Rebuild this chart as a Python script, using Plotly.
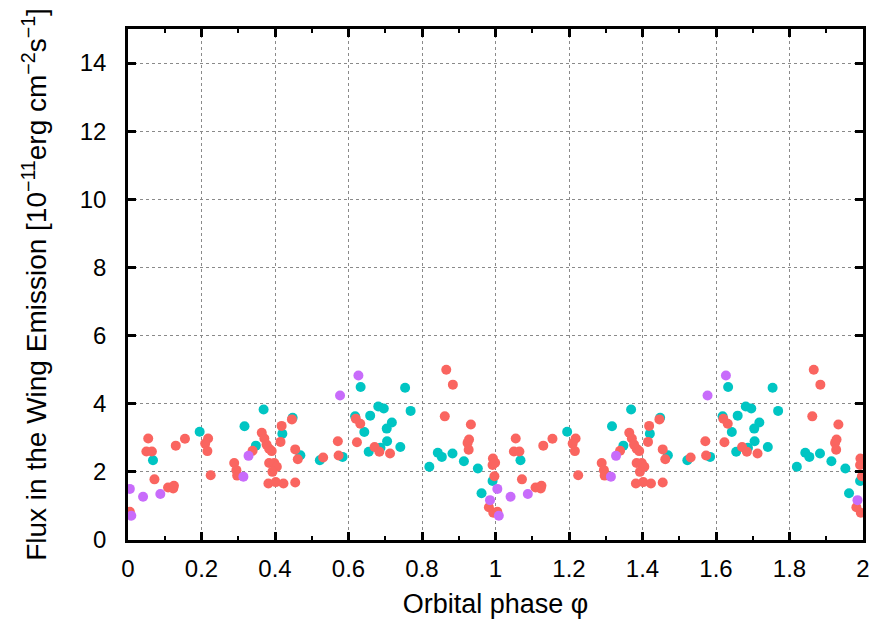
import plotly.graph_objects as go

# ---- data (orbital phase 0-1; plotted twice, phase and phase+1) ----
red_phase = [0.005, 0.994, 0.055, 0.050, 0.065, 0.072, 0.109, 0.123, 0.125, 0.130,
             0.155, 0.218, 0.210, 0.216, 0.225, 0.289, 0.295, 0.297, 0.339, 0.364,
             0.371, 0.377, 0.384, 0.391, 0.384, 0.398, 0.405, 0.393, 0.382, 0.402,
             0.423, 0.418, 0.415, 0.446, 0.455, 0.462, 0.455, 0.531, 0.571, 0.573,
             0.620, 0.632, 0.623, 0.671, 0.684, 0.713, 0.866, 0.884, 0.862, 0.933,
             0.928, 0.924, 0.927, 0.993, 0.992, 0.999, 0.997, 0.982]
red_flux = [0.83, 0.80, 2.98, 2.60, 2.60, 1.78, 1.54, 1.51, 1.59, 2.77,
            2.97, 2.98, 2.83, 2.61, 1.90, 2.26, 2.05, 1.89, 2.62, 3.15,
            2.98, 2.80, 2.68, 2.61, 2.26, 2.26, 2.15, 2.00, 1.66, 1.70,
            1.66, 3.35, 2.88, 3.54, 2.66, 2.37, 1.69, 2.42, 2.90, 2.48,
            3.56, 3.41, 2.87, 2.73, 2.59, 2.54, 5.00, 4.56, 3.63, 3.39,
            2.95, 2.85, 2.65, 2.39, 2.20, 2.27, 1.87, 0.96]

teal_phase = [0.068, 0.195, 0.317, 0.348, 0.369, 0.420, 0.448, 0.469, 0.522, 0.584,
              0.633, 0.618, 0.643, 0.659, 0.681, 0.696, 0.718, 0.704, 0.705, 0.687,
              0.655, 0.741, 0.754, 0.769, 0.820, 0.843, 0.854, 0.883, 0.914, 0.952,
              0.962, 0.992]
teal_flux = [2.34, 3.18, 3.34, 2.77, 3.83, 3.12, 3.59, 2.49, 2.34, 2.44,
             4.49, 3.63, 3.17, 3.65, 3.92, 3.86, 3.45, 3.27, 2.90, 2.71,
             2.59, 2.73, 4.47, 3.79, 2.15, 2.56, 2.44, 2.54, 2.31, 2.10,
             1.37, 1.73]

purple_phase = [0.005, 0.009, 0.041, 0.088, 0.314, 0.328, 0.577, 0.627, 0.985]
purple_flux = [1.50, 0.71, 1.27, 1.35, 1.86, 2.47, 4.24, 4.83, 1.17]

x_ticks = [0, 0.2, 0.4, 0.6, 0.8, 1, 1.2, 1.4, 1.6, 1.8, 2]
x_labels = ["0", "0.2", "0.4", "0.6", "0.8", "1", "1.2", "1.4", "1.6", "1.8", "2"]
y_ticks = [0, 2, 4, 6, 8, 10, 12, 14]
y_labels = ["0", "2", "4", "6", "8", "10", "12", "14"]

FONT = "Liberation Sans"

def two_cycles(ph, fl):
    return ph + [p + 1 for p in ph], fl + fl

fig = go.Figure()
for ph, fl, col in [(teal_phase, teal_flux, "#00C5C3"),
                    (red_phase, red_flux, "#FA6560"),
                    (purple_phase, purple_flux, "#C86CFB")]:
    xs, ys = two_cycles(ph, fl)
    fig.add_trace(go.Scatter(x=xs, y=ys, mode="markers",
                             marker=dict(size=10, color=col, line=dict(width=0)),
                             showlegend=False, cliponaxis=True))

axis_common = dict(showline=True, linecolor="black", linewidth=2.5, mirror="allticks",
                   ticks="inside", ticklen=8, tickwidth=2.5, tickcolor="black",
                   showgrid=True, gridcolor="#8a8a8a", griddash="dot", gridwidth=1,
                   zeroline=False, tickfont=dict(family=FONT, size=24, color="black"))

fig.update_xaxes(range=[0, 2], tickvals=x_ticks, ticktext=x_labels,
                 minor=dict(dtick=0.1, ticks="inside", ticklen=4, tickwidth=2,
                            tickcolor="black", showgrid=False),
                 title=dict(text="Orbital phase φ", font=dict(family=FONT, size=27, color="black"),
                            standoff=14),
                 ticklabelstandoff=5,
                 **axis_common)
fig.update_yaxes(range=[0, 15], tickvals=y_ticks, ticktext=y_labels,
                 title=dict(text="Flux in the Wing Emission [10<sup>−11</sup>erg cm<sup>−2</sup>s<sup>−1</sup>]",
                            font=dict(family=FONT, size=28, color="black"), standoff=25),
                 ticklabelstandoff=14,
                 **axis_common)

fig.update_layout(width=876, height=624,
                  margin=dict(l=128, r=13, t=29, b=84, autoexpand=False),
                  plot_bgcolor="white", paper_bgcolor="white",
                  font=dict(family=FONT, color="black"))

fig.write_html("out.html")
